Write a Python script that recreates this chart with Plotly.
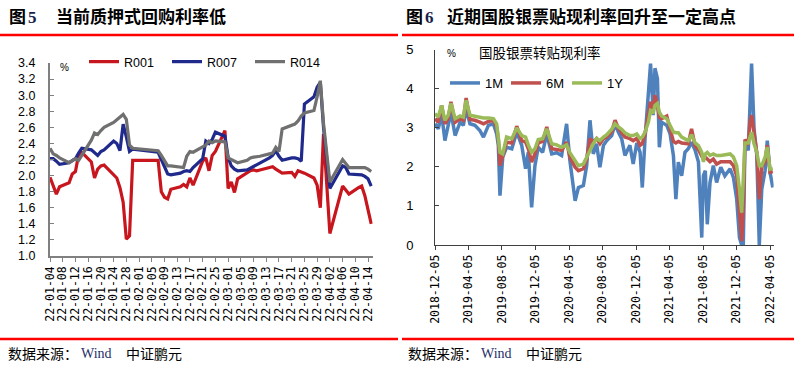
import plotly.graph_objects as go

# ---------------- Left panel data: repo rates (%) ----------------
repo_dates = ["2022-01-04","2022-01-05","2022-01-06","2022-01-07","2022-01-10","2022-01-11","2022-01-12","2022-01-13","2022-01-14",
              "2022-01-17","2022-01-18","2022-01-19","2022-01-20","2022-01-21","2022-01-24","2022-01-25","2022-01-26","2022-01-27",
              "2022-01-28","2022-01-29","2022-01-30","2022-02-07","2022-02-08","2022-02-09","2022-02-10","2022-02-11","2022-02-14",
              "2022-02-15","2022-02-16","2022-02-17","2022-02-18","2022-02-21","2022-02-22","2022-02-23","2022-02-24","2022-02-25",
              "2022-02-28","2022-03-01","2022-03-02","2022-03-03","2022-03-04","2022-03-07","2022-03-08","2022-03-09","2022-03-10",
              "2022-03-11","2022-03-14","2022-03-15","2022-03-16","2022-03-17","2022-03-18","2022-03-21","2022-03-22","2022-03-23",
              "2022-03-24","2022-03-25","2022-03-28","2022-03-29","2022-03-30","2022-03-31","2022-04-01","2022-04-02","2022-04-06",
              "2022-04-07","2022-04-08","2022-04-11","2022-04-12","2022-04-13","2022-04-14","2022-04-15"]
r001 = [1.98,1.86,1.77,1.86,1.91,2.02,2.05,2.26,2.29,2.17,1.97,2.08,2.12,2.13,2.01,1.97,1.85,1.67,1.21,1.25,2.19,
        2.19,1.80,1.73,1.71,1.83,1.86,1.89,1.86,1.97,1.88,2.18,2.22,2.06,2.25,2.30,2.56,1.84,1.92,1.79,1.96,
        2.04,2.06,2.07,2.06,2.07,2.10,2.11,2.08,2.05,2.03,2.04,1.99,2.06,2.05,2.03,1.97,1.88,1.60,2.52,1.90,
        1.28,1.87,1.82,1.77,1.85,1.87,1.75,1.56,1.40]
r007 = [2.21,2.21,2.18,2.14,2.16,2.18,2.21,2.28,2.34,2.32,2.29,2.25,2.30,2.32,2.43,2.40,2.31,2.64,2.48,2.30,2.33,
        2.29,2.20,2.10,2.02,2.01,2.03,2.05,2.06,2.05,2.10,2.21,2.43,2.40,2.45,2.54,2.49,2.23,2.12,2.08,2.06,
        2.07,2.09,2.11,2.13,2.15,2.22,2.25,2.31,2.24,2.19,2.22,2.22,2.21,2.18,2.89,2.98,3.10,3.16,2.60,2.20,
        1.84,2.12,2.10,2.02,2.01,2.01,1.99,1.96,1.87]
r014 = [2.34,2.27,2.25,2.22,2.16,2.19,2.21,2.19,2.25,2.44,2.53,2.51,2.56,2.60,2.66,2.69,2.73,2.76,2.70,2.38,2.34,
        2.31,2.25,2.18,2.12,2.12,2.11,2.10,2.24,2.30,2.29,2.36,2.38,2.43,2.41,2.43,2.42,2.22,2.20,2.17,2.16,
        2.19,2.22,2.23,2.24,2.24,2.27,2.28,2.35,2.30,2.58,2.62,2.64,2.68,2.74,2.78,2.81,2.98,3.18,2.65,2.25,
        1.92,2.20,2.15,2.10,2.10,2.10,2.10,2.08,2.05]

# ---------------- Right panel data: bill rediscount rates (%) ----------------
disc_dates = ["2018-12-05","2018-12-17","2018-12-29","2019-01-10","2019-01-22","2019-02-01","2019-02-16","2019-03-06","2019-03-18","2019-03-28",
              "2019-04-11","2019-04-29","2019-05-17","2019-05-30","2019-06-17","2019-07-05","2019-07-17","2019-07-23","2019-07-29","2019-08-08",
              "2019-08-22","2019-09-10","2019-09-28","2019-10-16","2019-10-30","2019-11-09","2019-11-21","2019-12-03","2019-12-15","2019-12-31",
              "2020-01-15","2020-02-02","2020-02-20","2020-03-09","2020-03-27","2020-04-08","2020-04-27","2020-05-09","2020-05-27","2020-06-08",
              "2020-06-20","2020-07-02","2020-07-14","2020-07-26","2020-08-08","2020-08-20","2020-09-07","2020-09-19","2020-10-01","2020-10-13",
              "2020-10-25","2020-11-12","2020-11-24","2020-12-07","2020-12-19","2020-12-27","2021-01-06","2021-01-18","2021-01-26","2021-02-05",
              "2021-02-11","2021-02-20","2021-02-27","2021-03-07","2021-03-26","2021-04-07","2021-04-19","2021-04-28","2021-05-07","2021-05-19",
              "2021-05-31","2021-06-12","2021-06-24","2021-07-07","2021-07-19","2021-07-31","2021-08-06","2021-08-13","2021-08-20","2021-08-30",
              "2021-09-11","2021-09-23","2021-10-08","2021-10-23","2021-11-11","2021-11-23","2021-12-05","2021-12-15","2021-12-23","2021-12-29",
              "2022-01-04","2022-01-16","2022-01-22","2022-01-28","2022-02-06","2022-02-16","2022-02-25","2022-03-06","2022-03-18","2022-03-26",
              "2022-04-05","2022-04-15"]
rate_1m = [3.10,2.97,3.36,2.67,3.06,3.40,2.80,3.14,3.06,3.49,
           3.10,3.06,2.93,2.76,3.06,3.10,2.84,2.55,1.26,2.25,
           2.50,2.46,2.89,2.55,1.95,2.37,0.96,2.03,2.50,2.37,
           2.84,2.33,2.36,2.29,3.10,2.16,1.13,1.47,1.52,2.03,
           3.19,2.33,2.59,1.99,2.55,2.67,2.80,3.10,2.89,2.72,
           2.29,2.55,2.07,2.61,2.37,1.47,2.72,3.74,4.64,3.32,
           4.52,4.26,2.50,3.14,3.06,2.84,2.29,1.17,2.12,1.77,
           2.37,2.46,2.63,2.42,2.12,0.19,1.77,1.90,0.53,1.60,
           2.03,1.60,1.99,1.77,1.95,1.73,1.17,0.19,0.00,0.02,
           2.61,2.42,3.74,4.64,2.97,2.29,0.00,1.43,1.90,2.67,
           1.86,1.47]
rate_6m = [3.23,3.14,3.57,3.10,3.23,3.66,3.14,3.23,3.19,3.76,
           3.21,3.19,3.14,3.10,3.16,3.19,3.02,2.72,2.03,2.29,
           2.63,2.61,3.04,2.67,2.63,2.46,2.12,2.33,2.61,2.65,
           3.02,2.46,2.44,2.42,2.63,2.25,1.99,1.90,1.95,2.20,
           2.72,2.63,2.72,2.59,2.72,2.76,2.90,3.19,2.99,2.87,
           2.76,2.72,2.67,2.73,2.55,2.59,2.84,3.36,3.66,3.49,
           3.83,3.57,3.27,3.23,3.30,2.97,2.65,2.61,2.65,2.61,
           2.61,2.59,2.97,2.53,2.44,2.29,2.19,2.25,2.20,2.13,
           2.20,2.07,2.13,2.13,2.13,2.03,1.77,0.83,0.10,0.92,
           2.70,2.56,3.14,3.32,2.80,2.36,1.17,1.99,2.13,2.55,
           1.86,1.88]
rate_1y = [3.36,3.27,3.57,3.19,3.32,3.62,3.23,3.30,3.27,3.70,
           3.32,3.29,3.27,3.25,3.25,3.23,3.10,2.80,2.37,2.33,
           2.76,2.72,2.99,2.80,2.76,2.56,2.37,2.46,2.70,2.72,
           2.97,2.59,2.56,2.50,2.56,2.36,2.16,2.03,2.07,2.25,
           2.42,2.59,2.72,2.67,2.76,2.82,2.96,3.10,3.02,2.96,
           2.87,2.80,2.80,2.84,2.72,2.76,2.89,3.14,3.44,3.40,
           3.57,3.62,3.40,3.30,3.23,3.06,2.89,2.87,2.87,2.76,
           2.72,2.67,2.82,2.61,2.54,2.37,2.13,2.33,2.37,2.29,
           2.33,2.29,2.29,2.31,2.33,2.25,2.03,1.43,0.83,1.69,
           2.61,2.61,2.72,2.89,2.59,2.37,2.03,2.03,2.25,2.50,
           1.94,1.96]

W, H = 794, 367
def px(x):
    return x / W
def py(y):
    return 1 - y / H

CJK = "Noto Sans CJK SC"

fig = go.Figure()
left_series = [("R001", r001, "#C8161E"), ("R007", r007, "#1F2A8C"), ("R014", r014, "#707070")]
for name, vals, col in left_series:
    fig.add_trace(go.Scatter(x=repo_dates, y=vals, name=name, mode="lines",
                             line=dict(color=col, width=3.2), xaxis="x", yaxis="y", legend="legend"))
right_series = [("1M", rate_1m, "#4F81BD"), ("6M", rate_6m, "#C0504D"), ("1Y", rate_1y, "#9BBB59")]
for name, vals, col in right_series:
    fig.add_trace(go.Scatter(x=disc_dates, y=vals, name=name, mode="lines",
                             line=dict(color=col, width=3.5), xaxis="x2", yaxis="y2", legend="legend2"))

axis_col = "#808080"
fig.update_layout(
    width=W, height=H, autosize=False,
    margin=dict(l=0, r=0, t=0, b=0, pad=0, autoexpand=False),
    paper_bgcolor="white", plot_bgcolor="white", showlegend=True,
    xaxis=dict(domain=[px(50), px(372.8)], type="date", range=["2022-01-04", "2022-04-15 12:00"],
               tick0="2022-01-04", dtick=4 * 86400000, tickformat="%y-%m-%d", tickangle=-90,
               ticks="outside", ticklen=4, tickcolor=axis_col, showline=True, linecolor=axis_col, linewidth=1.5,
               showgrid=False, zeroline=False, anchor="y", automargin=False,
               tickfont=dict(family="DejaVu Sans Mono", size=11.5, color="black")),
    yaxis=dict(domain=[py(256), py(63)], range=[1.0, 3.4], dtick=0.2, tickformat=".1f",
               ticks="inside", ticklen=4, tickcolor=axis_col, showline=True, linecolor=axis_col, linewidth=2,
               showgrid=False, zeroline=False, anchor="x", ticklabelstandoff=10, automargin=False,
               tickfont=dict(family="Liberation Sans", size=12.5, color="black")),
    xaxis2=dict(domain=[px(435), px(773.6)], type="date", range=["2018-12-05", "2022-04-18"],
                tick0="2018-12-05", dtick="M4", tickformat="%Y-%m-%d", tickangle=-90,
                ticks="outside", ticklen=4, tickcolor="#404040", showline=True, linecolor="#404040", linewidth=1,
                showgrid=False, zeroline=False, anchor="y2", automargin=False,
                tickfont=dict(family="DejaVu Sans Mono", size=11.5, color="black")),
    yaxis2=dict(domain=[py(245), py(49.5)], range=[0, 5], dtick=1,
                ticks="inside", ticklen=4, tickcolor="#404040", showline=True, linecolor="#404040", linewidth=1,
                showgrid=False, zeroline=False, anchor="x2", ticklabelstandoff=18, automargin=False,
                tickfont=dict(family="Liberation Sans", size=13, color="black")),
    legend=dict(orientation="h", x=px(84), y=py(62), xanchor="left", yanchor="middle",
                entrywidth=38, entrywidthmode="pixels", bgcolor="rgba(0,0,0,0)",
                font=dict(family="Liberation Sans", size=12.5, color="black")),
    legend2=dict(orientation="h", x=px(445), y=py(83), xanchor="left", yanchor="middle",
                 entrywidth=16, entrywidthmode="pixels", bgcolor="rgba(0,0,0,0)",
                 font=dict(family="Liberation Sans", size=13, color="black")),
)

ann = []
def text(x, y, s, size, family=CJK, color="black", anchor="left"):
    ann.append(dict(x=px(x), y=py(y), xref="paper", yref="paper", text=s, showarrow=False,
                    xanchor=anchor, yanchor="middle", font=dict(family=family, size=size, color=color)))

text(7, 16, "<b>图</b>", 17)
text(26, 17, "<b>5</b>", 17, family="Liberation Serif", color="#1a1f4a")
text(54, 16, "<b>当前质押式回购利率低</b>", 17)
text(404, 16, "<b>图</b>", 17)
text(423, 17, "<b>6</b>", 17, family="Liberation Serif", color="#1a1f4a")
text(445, 16, "<b>近期国股银票贴现利率回升至一定高点</b>", 17)
text(58, 68, "%", 10, family="Liberation Sans")
text(445, 54, "%", 10, family="Liberation Sans")
text(477, 52, "国股银票转贴现利率", 13.5)
for x0 in (6, 406):
    text(x0, 353, "数据来源：", 14)
    text(x0 + 73, 353, "Wind", 14, family="Liberation Serif", color="#1f2f6a")
    text(x0 + 118, 353, "中证鹏元", 14)
fig.update_layout(annotations=ann)

shapes = []
for (x0, x1) in ((0, 398), (402, 794)):
    for yy in (35, 339):
        shapes.append(dict(type="line", xref="paper", yref="paper", x0=px(x0), x1=px(x1), y0=py(yy), y1=py(yy),
                           line=dict(color="#FF0000", width=2.5)))
fig.update_layout(shapes=shapes)

fig.write_html("out.html",
               config={"displayModeBar": False, "responsive": False},
               post_script="document.body.style.margin='0';document.body.style.overflow='hidden';")
